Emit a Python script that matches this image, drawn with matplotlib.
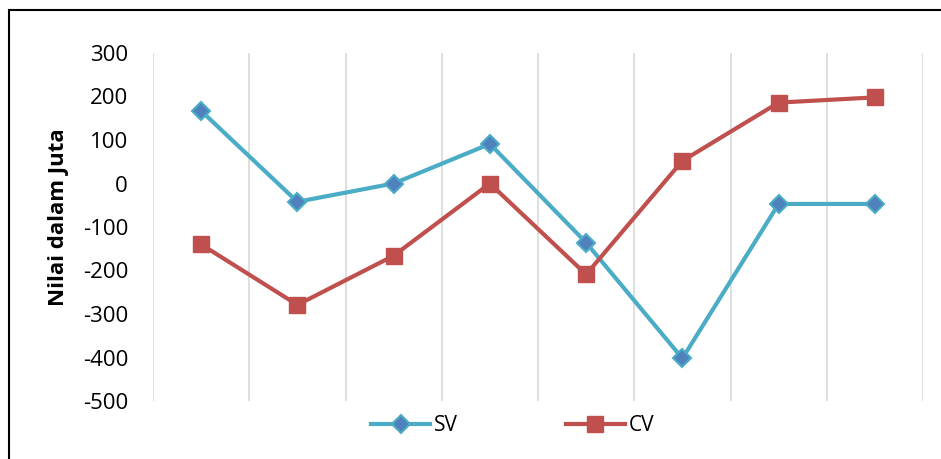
import numpy as np
import matplotlib
matplotlib.use("Agg")
import matplotlib.pyplot as plt
from matplotlib.patches import Rectangle

plt.rcParams['font.family'] = ['Open Sans', 'DejaVu Sans']

# data
periods = [1, 2, 3, 4, 5, 6, 7, 8]
sv_values = [167, -42, 0, 91, -136, -402, -47, -47]
cv_values = [-140, -279, -166, 0, -209, 52, 186, 198]
y_ticks = [-500, -400, -300, -200, -100, 0, 100, 200, 300]

sv_color = '#4BACC6'
sv_fill = '#4F81BD'
cv_color = '#C0504D'

fig = plt.figure(figsize=(9.41, 4.59), dpi=100)
ax = fig.add_axes([153 / 941, 1 - 401 / 459, (923 - 153) / 941, (401 - 53) / 459])

# outer chart border (right and bottom edges cut off in the reference)
fig.patches.append(Rectangle((9 / 941, -0.05), 1.05, 1 - 10 / 459 + 0.05,
                             transform=fig.transFigure, fill=False,
                             edgecolor='black', linewidth=1.5))

ax.plot(periods, sv_values, color=sv_color, linewidth=3, marker='D',
        markersize=9, markerfacecolor=sv_fill, markeredgecolor=sv_color,
        markeredgewidth=1.5, label='SV', zorder=3)
ax.plot(periods, cv_values, color=cv_color, linewidth=3, marker='s',
        markersize=12, markerfacecolor=cv_color, markeredgecolor=cv_color,
        label='CV', zorder=3)

ax.set_xlim(0.5, 8.5)
ax.set_ylim(-500, 300)
ax.set_yticks(y_ticks)
ax.set_yticklabels([str(v) for v in y_ticks], fontsize=16)
ax.set_xticks([])
ax.set_xticks(np.arange(0.5, 9, 1), minor=True)
ax.tick_params(axis='x', which='minor', length=0)
ax.tick_params(axis='y', length=0, pad=18)
ax.grid(True, which='minor', axis='x', color='#D9D9D9', linewidth=1.2)
for s in ax.spines.values():
    s.set_visible(False)

ax.set_ylabel('Nilai dalam Juta', fontsize=16, fontweight='bold', va='center')
ax.yaxis.set_label_coords(-0.123, 0.527)

fig.legend(loc='center', bbox_to_anchor=(0.545, 0.072), ncol=2, frameon=False,
           fontsize=15, handlelength=2.8, columnspacing=5.2, handletextpad=0.2)

fig.savefig('out.png', dpi=100)
